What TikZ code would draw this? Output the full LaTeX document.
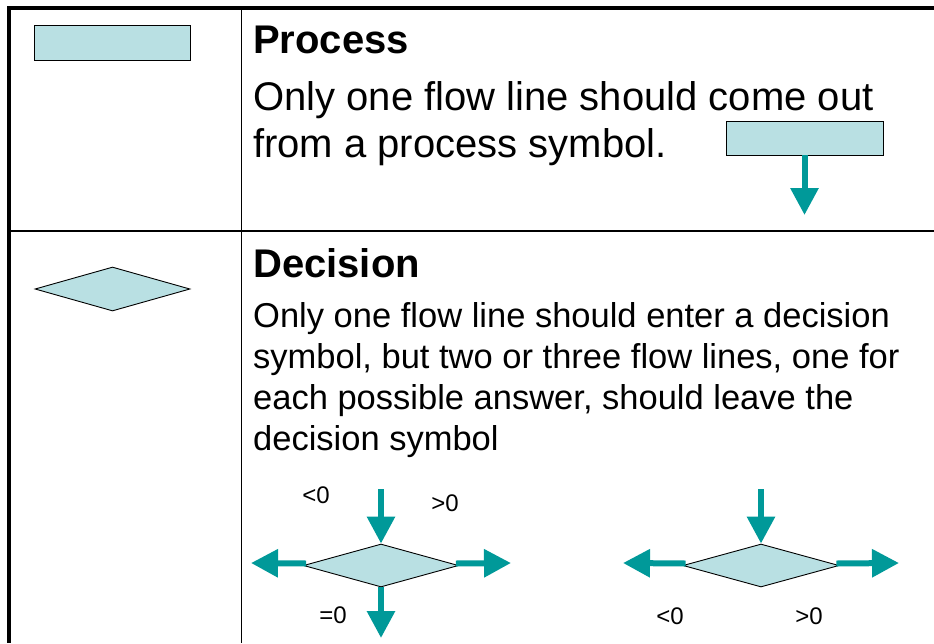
\documentclass[tikz,border=0pt]{standalone}
\usepackage{fontspec}
\setmainfont{Liberation Sans}
\usetikzlibrary{arrows.meta,shapes.geometric}
\definecolor{symfill}{RGB}{185,224,227}
\definecolor{flowteal}{RGB}{0,153,153}
\tikzset{
  rule/.style={draw=black,line width=1.5pt},
  outer/.style={draw=black,line width=3.2pt},
  procbox/.style={rectangle,draw=black,line width=0.9pt,fill=symfill,inner sep=0pt},
  decbox/.style={diamond,draw=black,line width=0.9pt,fill=symfill,inner sep=0pt},
  flow/.style={draw=flowteal,line width=6pt,-{Triangle[length=27pt,width=27pt]}},
  head/.style={anchor=base west,inner sep=0pt,font=\bfseries\fontsize{40}{48}\selectfont},
  bigtxt/.style={anchor=base west,inner sep=0pt,font=\fontsize{40}{48}\selectfont},
  midtxt/.style={anchor=base west,inner sep=0pt,font=\fontsize{34.5}{41}\selectfont},
  lbl/.style={anchor=center,inner sep=0pt,font=\fontsize{24}{28}\selectfont}
}
\begin{document}
\begin{tikzpicture}[x=1pt,y=-1pt]
\useasboundingbox (0,0) rectangle (934,643);
% table rules
\coordinate (tl) at (9,8);
\coordinate (tr) at (934,8);
\coordinate (bl) at (9,643);
\coordinate (ct) at (241.5,8);
\coordinate (cb) at (241.5,643);
\coordinate (rl) at (9,231);
\coordinate (rr) at (934,231);
\draw[rule] (ct) -- (cb);
\draw[rule] (rl) -- (rr);
\draw[outer] (tr) -- (tl) -- (bl);

% left column symbols
\node[procbox,minimum width=156pt,minimum height=35pt] (proc) at (112,42.5) {};
\node[decbox,minimum width=155pt,minimum height=44pt] (dec) at (112.5,289) {};

% Process text
\node[head] (ptitle) at (253,53) {Process};
\node[bigtxt] (pl1) at (253,110) {Only one flow line should come out};
\node[bigtxt] (pl2) at (253,157) {from a process symbol.};

% process example
\node[procbox,minimum width=157pt,minimum height=34pt] (proc2) at (804.5,138) {};
\coordinate (p2end) at (804.5,215);
\draw[flow] (proc2.south) -- (p2end);

% Decision text
\node[head] (dtitle) at (253,277) {Decision};
\node[midtxt] (dl1) at (253,327) {Only one flow line should enter a decision};
\node[midtxt] (dl2) at (253,368) {symbol, but two or three flow lines, one for};
\node[midtxt] (dl3) at (253,409) {each possible answer, should leave the};
\node[midtxt] (dl4) at (253,450) {decision symbol};

% decision example 1
\node[decbox,minimum width=155pt,minimum height=43pt] (d1) at (381,565.5) {};
\coordinate (d1in) at (381,489);
\coordinate (d1l) at (251,563);
\coordinate (d1r) at (511,563);
\coordinate (d1b) at (381,638);
\draw[flow] (d1in) -- (d1.north);
\draw[flow] (d1.west) ++(3,-2) -- (d1l);
\draw[flow] (d1.east) ++(-3,-2) -- (d1r);
\draw[flow] (d1.south) -- (d1b);
\node[lbl] (l1a) at (316,495) {<0};
\node[lbl] (l1b) at (445,503) {>0};
\node[lbl] (l1c) at (333,615) {=0};

% decision example 2
\node[decbox,minimum width=156pt,minimum height=43pt] (d2) at (761,565.5) {};
\coordinate (d2in) at (761,489);
\coordinate (d2l) at (623,563);
\coordinate (d2r) at (899,563);
\draw[flow] (d2in) -- (d2.north);
\draw[flow] (d2.west) ++(3,-2) -- (d2l);
\draw[flow] (d2.east) ++(-3,-2) -- (d2r);
\node[lbl] (l2a) at (670,616) {<0};
\node[lbl] (l2b) at (809,616) {>0};
\end{tikzpicture}
\end{document}
